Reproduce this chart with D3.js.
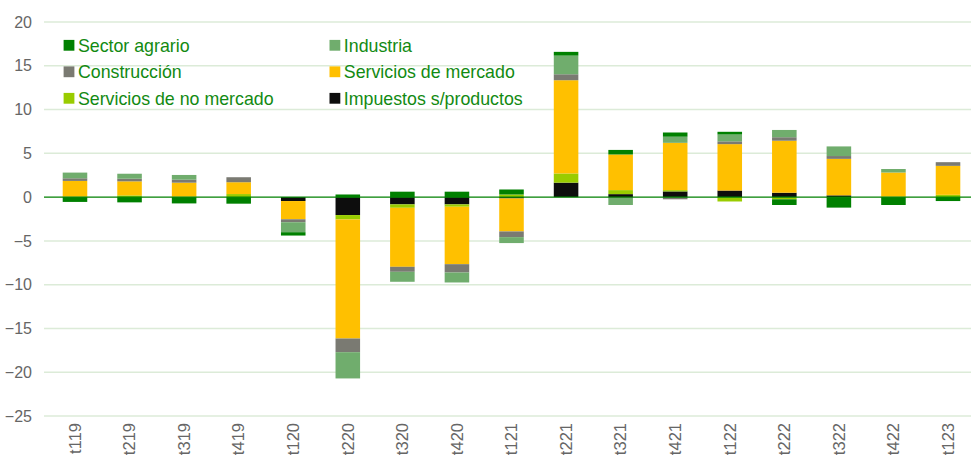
<!DOCTYPE html>
<html>
<head>
<meta charset="utf-8">
<script src="https://cdn.jsdelivr.net/npm/d3@7"></script>
<style>
  body { margin: 0; background: #fff; }
  svg { display: block; font-family: "Liberation Sans", Arial, sans-serif; }
</style>
</head>
<body>
<div id="chart"></div>
<script>
// data
var quarters = ["t119","t219","t319","t419","t120","t220","t320","t420","t121","t221","t321","t421","t122","t222","t322","t422","t123"];
var sectorAgrario = [-0.55,-0.6,-0.72,-0.75,-0.38,0.3,0.62,0.62,0.57,0.43,0.52,0.48,0.31,-0.65,-1.2,-0.9,-0.45];
var industria     = [0.65,0.57,0.54,0,-1.14,-3.0,-1.14,-1.14,-0.68,2.13,-0.8,0.7,0.78,0.83,1.1,0.4,0];
var construccion  = [0.3,0.3,0.34,0.57,-0.34,-1.56,-0.57,-0.95,-0.65,0.68,-0.1,-0.25,0.32,0.4,0.32,0,0.42];
var serviciosMercado   = [1.8,1.6,1.6,1.35,-2.08,-13.6,-6.74,-6.56,-3.77,10.65,4.07,5.4,5.3,5.94,4.17,2.76,3.31];
var serviciosNoMercado = [0.05,0.2,0.05,0.35,0,-0.5,-0.39,-0.27,0.3,1.05,0.46,0.15,-0.5,-0.25,0,0.05,0.26];
var impuestos     = [0,0,0,0,-0.45,-2.05,-0.83,-0.83,-0.15,1.65,0.34,0.65,0.75,0.5,0.2,0,0];
var yTicks = [20,15,10,5,0,-5,-10,-15,-20,-25];

var series = [
  {key:"imp", name:"Impuestos s/productos", values:impuestos, color:"#0d0d0d"},
  {key:"nom", name:"Servicios de no mercado", values:serviciosNoMercado, color:"#99cc00"},
  {key:"mer", name:"Servicios de mercado", values:serviciosMercado, color:"#ffc000"},
  {key:"con", name:"Construcción", values:construccion, color:"#7a7a72"},
  {key:"ind", name:"Industria", values:industria, color:"#70ad6d"},
  {key:"agr", name:"Sector agrario", values:sectorAgrario, color:"#008000"}
];
var legendOrder = ["agr","ind","con","mer","nom","imp"];

var W = 971, H = 458;
var svg = d3.select("#chart").append("svg").attr("width", W).attr("height", H);

var x = d3.scaleBand().domain(quarters).range([47.7, 975.3]).paddingInner(0.55).paddingOuter(0.275);
var y = d3.scaleLinear().domain([-25, 20]).range([416, 22]);

var rows = quarters.map(function(q, i){
  var r = {q:q};
  series.forEach(function(s){ r[s.key] = s.values[i]; });
  return r;
});
var stack = d3.stack().keys(series.map(function(s){return s.key;})).offset(d3.stackOffsetDiverging);
var layers = stack(rows);

// gridlines
svg.append("g").selectAll("line").data(yTicks.filter(function(t){return t !== 0;})).enter().append("line")
  .attr("x1", 44).attr("x2", W)
  .attr("y1", function(d){return y(d);}).attr("y2", function(d){return y(d);})
  .attr("stroke", "#dcebd8").attr("stroke-width", 1.5);

// y axis labels
var yAxis = d3.axisLeft(y).tickValues(yTicks).tickSize(0).tickPadding(0);
var gy = svg.append("g").attr("transform", "translate(32,0)").call(yAxis);
gy.select(".domain").remove();
gy.selectAll("text").attr("fill", "#666").style("font-size", "16px").style("font-family", "'Liberation Sans', Arial, sans-serif");

// bars
var colorOf = {};
series.forEach(function(s){ colorOf[s.key] = s.color; });
svg.append("g").selectAll("g").data(layers).enter().append("g")
  .attr("fill", function(d){return colorOf[d.key];})
  .selectAll("rect").data(function(d){return d;}).enter().append("rect")
  .attr("x", function(d){return x(d.data.q);})
  .attr("width", x.bandwidth())
  .attr("y", function(d){return y(Math.max(d[0], d[1]));})
  .attr("height", function(d){return Math.abs(y(d[0]) - y(d[1]));});

// zero line
svg.append("line").attr("x1", 44).attr("x2", W).attr("y1", y(0)).attr("y2", y(0))
  .attr("stroke", "#008000").attr("stroke-width", 1.3);

// x labels
var xAxis = d3.axisBottom(x).tickSize(0).tickPadding(0);
var gx = svg.append("g").attr("transform", "translate(0,423)").call(xAxis);
gx.select(".domain").remove();
gx.selectAll("text")
  .attr("fill", "#666").style("font-size", "16.5px").style("font-family", "'Liberation Sans', Arial, sans-serif")
  .attr("text-anchor", "end")
  .attr("transform", "rotate(-90)")
  .attr("x", 0).attr("y", 0).attr("dy", "0.35em");

// legend
var legend = svg.append("g");
legendOrder.forEach(function(k, i){
  var s = series.filter(function(d){return d.key === k;})[0];
  var col = i % 2, row = Math.floor(i / 2);
  var lx = col === 0 ? 63.6 : 329.5;
  var ly = 45.3 + row * 26.5;
  var g = legend.append("g").attr("transform", "translate(" + lx + "," + ly + ")");
  g.append("rect").attr("x", 0).attr("y", -5.4).attr("width", 10.8).attr("height", 10.8).attr("fill", s.color);
  g.append("text").attr("x", 14.3).attr("y", 0).attr("dy", "0.35em")
    .attr("fill", "#128a12").style("font-size", "17.8px").text(s.name);
});
</script>
</body>
</html>
